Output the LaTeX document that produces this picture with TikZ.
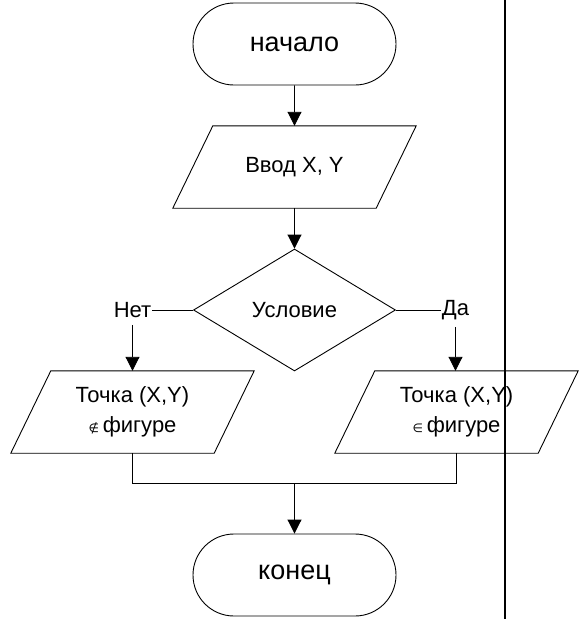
\documentclass[tikz,border=0pt]{standalone}
\usepackage{fontspec}
\setmainfont{Liberation Sans}
\newfontfamily\symfont{DejaVu Sans}
\usetikzlibrary{arrows.meta,shapes.misc,shapes.geometric}

% parallelogram drawn around a (borderless) rectangular node
\newcommand\ioshape[1]{%
  \draw[shapeline] ([xshift=20pt]#1.north west) -- ([xshift=20pt]#1.north east)
    -- ([xshift=-20pt]#1.south east) -- ([xshift=-20pt]#1.south west) -- cycle;}

\tikzset{
  shapeline/.style={line width=0.9pt, draw=black},
  terminal/.style={rounded rectangle, shapeline, minimum width=203pt,
    minimum height=82pt, inner sep=0pt, font=\fontsize{27}{32}\selectfont},
  iobox/.style={rectangle, minimum width=203pt, minimum height=82pt,
    inner sep=0pt, align=center, font=\fontsize{22}{30}\selectfont},
  decision/.style={diamond, shapeline, minimum width=202pt, minimum height=122pt,
    inner sep=0pt, shape aspect=1.66, font=\fontsize{22}{26}\selectfont},
  branch/.style={inner xsep=1pt, inner ysep=7pt, font=\fontsize{22}{26}\selectfont},
  flow/.style={line width=0.9pt, -{Triangle[length=14pt,width=14pt]}},
  wire/.style={line width=0.9pt},
}

\begin{document}
\begin{tikzpicture}[x=1pt,y=-1pt]
\useasboundingbox (0,0) rectangle (580,619);
\fill[white] (0,0) rectangle (580,619);

\node[terminal] (start) at (294.5,44) {начало};
\node[iobox] (input) at (294.5,167) {Ввод X, Y};
\ioshape{input}
\node[decision] (cond) at (294.5,310) {Условие};
\node[branch] (no) at (132.5,310) {Нет};
\node[branch] (yes) at (455.5,310) {Да};
\node[iobox] (outno) at (132.5,412) {Точка (X,Y)\\{\symfont\fontsize{12}{14}\selectfont ∉ }фигуре};
\ioshape{outno}
\node[iobox] (outyes) at (456.5,412) {Точка (X,Y)\\{\symfont\fontsize{12}{14}\selectfont ∈ }фигуре};
\ioshape{outyes}
\node[terminal] (stop) at (294.5,575) {конец};
\coordinate (join) at (294.5,483);

\draw[flow] (start) -- (input);
\draw[flow] (input) -- (cond);
\draw[wire] (cond.west) -- (no.east);
\draw[wire] (cond.east) -- (yes.west);
\draw[flow] (no.south) -- (no.south |- outno.north);
\draw[flow] (yes.south) -- (yes.south |- outyes.north);
\draw[wire] (outno.south) |- (join);
\draw[wire] (outyes.south) |- (join);
\draw[flow] (join) -- (stop);

% margin rule
\draw[line width=2pt] (505,0) -- (505,619);
\end{tikzpicture}
\end{document}
